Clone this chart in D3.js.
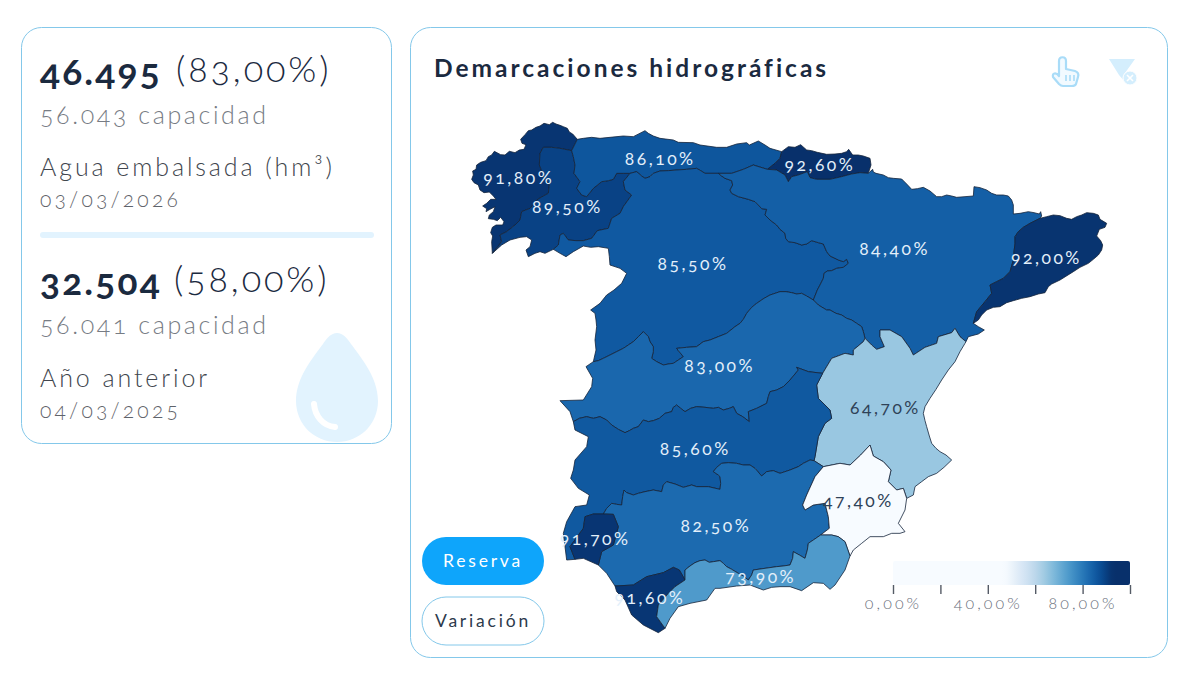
<!DOCTYPE html>
<html lang="es">
<head>
<meta charset="utf-8">
<title>Demarcaciones hidrográficas</title>
<script src="https://cdn.jsdelivr.net/npm/d3@7"></script>
<style>
  html, body { margin: 0; background: #fff; }
  svg { display: block; }
  text { font-family: Lato, "Open Sans", sans-serif; font-variant-numeric: oldstyle-nums; }
</style>
</head>
<body>
<script>
// kpi values
const embalsada = [46495, 32504];
const capacidad = [56043, 56041];
const porcentaje = [83, 58];
const rotulos = ['Agua embalsada (hm³)', 'Año anterior'];
const fechas = ['03/03/2026', '04/03/2025'];
const botones = ['Reserva', 'Variación'];

// reservoir level per basin
const demarcaciones = ['Galicia Costa', 'Miño-Sil', 'Cantábrico Occidental', 'Cantábrico Oriental', 'Duero', 'Ebro',
  'Cuencas Internas de Cataluña', 'Tajo', 'Júcar', 'Guadiana', 'Guadalquivir', 'Segura', 'Tinto, Odiel y Piedras',
  'Guadalete y Barbate', 'Mediterránea Andaluza'];
const reserva = [91.8, 89.5, 86.1, 92.6, 85.5, 84.4, 92, 83, 64.7, 85.6, 82.5, 47.4, 91.7, 91.6, 73.9];
const leyendaTicks = [0, 20, 40, 60, 80, 100];

// basin borders, in map units (3 units = 1px)
const galiciaCoast = [[352,88],[338,72],[328,66],[322,55],[310,50],[300,46],[288,42],[278,37],[268,44],[252,40],[240,48],[228,52],[215,60],[205,62],[195,74],[182,88],[186,100],[198,104],[192,118],[178,120],[165,128],[148,124],[135,135],[122,134],[103,124],[95,135],[85,140],[78,152],[62,157],[50,165],[48,178],[38,183],[40,195],[35,208],[42,218],[55,225],[60,240],[72,248],[88,246],[100,258],[108,268],[92,268],[80,280],[68,288],[80,296],[78,305],[90,298],[105,290],[100,305],[88,315],[85,326],[100,328],[112,332],[122,322],[132,335],[128,345],[108,345],[97,352],[92,368],[98,378],[95,395],[97,430]];
const galiciaMino = [[97,430],[125,395],[120,375],[140,365],[165,345],[180,330],[185,305],[210,295],[222,280],[230,270],[250,258],[265,250],[268,225],[250,200],[245,182],[238,165],[240,130],[250,112],[275,112],[300,115],[335,122]];
const galiciaCant = [[335,122],[352,88]];
const minoSouth = [[97,430],[125,405],[150,390],[180,382],[200,380],[215,390],[210,410],[198,420],[205,440],[225,430],[240,425],[255,430],[280,418]];
const minoDuero = [[280,418],[295,405],[300,375],[310,370],[325,390],[348,392],[370,392],[395,385],[412,362],[445,355],[455,325],[480,310],[490,290],[515,255],[495,240],[490,215],[510,190]];
const minoCant = [[335,122],[340,140],[345,165],[342,190],[360,215],[350,235],[365,255],[380,260],[400,235],[425,215],[445,212],[460,208],[470,190],[490,190],[510,190]];
const cantDuero = [[510,190],[530,185],[545,198],[555,205],[570,200],[580,190],[600,183],[625,182],[650,180],[680,178],[710,175],[722,182],[735,190],[775,190]];
const cantEbro = [[775,190],[815,190],[850,178],[880,165],[922,178]];
const cantCoast = [[352,88],[370,85],[395,82],[420,85],[450,82],[490,78],[520,80],[555,62],[565,70],[580,78],[600,85],[640,90],[655,97],[700,98],[720,105],[770,112],[800,112],[830,102],[860,98],[868,105],[895,93],[915,105],[930,115],[965,125]];
const orCant = [[965,125],[960,145],[945,160],[922,178]];
const orCoast = [[965,125],[985,110],[1005,112],[1022,104],[1040,120],[1055,122],[1072,127],[1100,133],[1125,132],[1145,130],[1160,125],[1166,118],[1178,135],[1195,135],[1210,138],[1230,145],[1233,165],[1225,190]];
const orEbro = [[1225,190],[1200,188],[1175,192],[1145,200],[1110,208],[1070,208],[1050,203],[1042,185],[1015,195],[995,200],[985,215],[975,195],[950,180],[922,178]];
const ebroCoast = [[1225,190],[1238,178],[1240,186],[1248,190],[1270,195],[1285,203],[1300,205],[1325,207],[1340,222],[1355,238],[1372,236],[1390,232],[1410,243],[1430,260],[1445,260],[1460,255],[1475,258],[1490,262],[1515,260],[1540,258],[1542,230],[1560,233],[1580,240],[1595,250],[1610,255],[1630,255],[1645,258],[1655,270],[1660,285],[1660,312],[1680,310],[1705,305],[1722,308],[1738,312],[1742,305],[1745,318],[1740,325]];
const ebroCat = [[1740,325],[1710,340],[1690,352],[1675,365],[1665,380],[1665,400],[1662,425],[1660,450],[1650,485],[1630,505],[1610,515],[1590,525],[1595,550],[1575,575],[1550,605],[1540,640]];
const catCoast = [[1740,325],[1760,320],[1780,315],[1800,317],[1820,325],[1835,328],[1850,320],[1865,315],[1880,308],[1900,310],[1915,315],[1920,328],[1940,340],[1935,352],[1918,358],[1910,378],[1922,392],[1928,405],[1925,420],[1915,435],[1900,448],[1885,460],[1860,472],[1840,485],[1800,510],[1775,522],[1765,530],[1755,548],[1735,552],[1710,560],[1685,565],[1660,572],[1640,578],[1620,590],[1600,592],[1580,600],[1565,615],[1555,630],[1540,640]];
const ebroDelta = [[1540,640],[1555,650],[1573,660],[1555,672],[1525,680],[1518,695]];
const ebroJucar = [[1518,695],[1500,680],[1485,655],[1475,668],[1435,680],[1430,700],[1395,712],[1360,735],[1350,715],[1325,680],[1290,660],[1260,660],[1260,680],[1273,710],[1250,718],[1235,705],[1215,685]];
const ebroTajo = [[1215,685],[1210,665],[1205,650],[1190,640],[1175,630],[1160,625],[1145,615],[1128,610],[1110,600],[1100,600],[1075,585],[1060,570]];
const ebroDuero = [[1060,570],[1072,540],[1080,525],[1090,505],[1092,490],[1102,483],[1115,482],[1130,475],[1150,472],[1165,460],[1160,448],[1150,455],[1135,450],[1125,445],[1110,438],[1100,425],[1090,402],[1075,398],[1055,392],[1040,402],[1025,405],[1005,398],[985,395],[977,385],[975,370],[960,358],[950,345],[930,330],[915,315],[920,298],[905,296],[895,285],[885,275],[865,268],[835,260],[815,250],[810,240],[818,225],[815,212],[795,205],[785,198],[775,190]];
const dueroTajo = [[1060,570],[1040,558],[1025,550],[1010,552],[995,548],[978,545],[960,545],[945,550],[930,555],[912,565],[890,580],[875,592],[860,610],[850,628],[840,640],[825,650],[800,670],[775,680],[750,690],[730,695],[710,710],[680,712],[650,715],[655,722],[670,740],[655,750],[640,760],[625,762],[610,765],[590,755],[575,745],[580,725],[580,710],[570,695],[565,680],[550,665],[535,680],[520,695],[505,705],[490,715],[470,725],[450,735],[430,745],[415,752],[400,755]];
const dueroPortugal = [[280,418],[300,430],[318,440],[340,425],[370,408],[392,412],[415,410],[445,415],[448,440],[450,465],[480,475],[500,490],[485,520],[462,540],[440,555],[420,580],[392,600],[405,610],[408,630],[410,650],[405,690],[408,720],[400,755]];
const tajoPortugal = [[400,755],[378,770],[398,805],[395,830],[370,870],[300,872],[330,905],[340,935]];
const tajoGuadiana = [[340,935],[358,925],[380,920],[400,925],[420,920],[440,930],[455,945],[475,958],[495,968],[508,962],[520,955],[535,950],[550,930],[565,935],[580,932],[598,925],[615,910],[635,905],[640,892],[650,885],[662,895],[675,905],[692,895],[710,890],[735,892],[760,895],[775,892],[790,900],[808,895],[820,890],[830,910],[848,920],[868,935],[865,905],[890,895],[920,880],[925,860],[930,845],[950,840],[970,830],[990,810],[1015,780],[1010,772],[1045,785],[1088,790]];
const tajoJucar = [[1215,685],[1210,695],[1180,720],[1180,735],[1155,730],[1115,745],[1088,790]];
const jucarGuadiana = [[1088,790],[1070,825],[1075,865],[1110,900],[1115,925],[1095,940],[1075,980],[1065,1040],[1062,1052]];
const jucarSegura = [[1090,1070],[1140,1060],[1170,1065],[1202,1035],[1230,1005],[1240,1038],[1270,1055],[1293,1080],[1285,1115],[1310,1140],[1330,1135],[1340,1165]];
const jucarCoast = [[1518,695],[1515,700],[1500,725],[1485,755],[1465,780],[1445,810],[1428,838],[1410,865],[1395,890],[1390,910],[1395,932],[1400,950],[1408,978],[1415,1000],[1428,1015],[1440,1025],[1458,1035],[1475,1050],[1452,1072],[1430,1090],[1405,1100],[1385,1115],[1365,1130],[1360,1155],[1340,1165]];
const seguraCoast = [[1340,1165],[1335,1200],[1315,1240],[1335,1265],[1320,1270],[1295,1270],[1270,1280],[1230,1280],[1205,1300],[1180,1320],[1170,1338]];
const guadalquivirJucar = [[1062,1052],[1090,1070]];
const guadalquivirSegura = [[1090,1070],[1065,1100],[1040,1155],[1028,1185],[1035,1200],[1060,1185],[1095,1180],[1105,1220],[1108,1255],[1082,1275]];
const seguraMed = [[1170,1338],[1155,1295],[1135,1280],[1115,1275],[1082,1275]];
const guadalquivirMed = [[675,1410],[675,1380],[690,1368],[705,1358],[720,1352],[735,1350],[748,1357],[760,1355],[780,1352],[790,1360],[800,1370],[815,1378],[835,1390],[850,1398],[865,1410],[875,1395],[880,1380],[915,1375],[950,1370],[970,1368],[990,1365],[998,1345],[1000,1325],[1018,1335],[1035,1345],[1042,1320],[1045,1300],[1060,1290],[1082,1275]];
const medCoast = [[1170,1338],[1155,1380],[1125,1425],[1110,1438],[1090,1420],[1060,1418],[1025,1442],[990,1430],[960,1430],[935,1432],[910,1440],[870,1425],[830,1428],[780,1435],[765,1435],[740,1470],[690,1480],[655,1490],[630,1525],[615,1555]];
const guadaleteMed = [[675,1410],[645,1430],[625,1450],[595,1485],[590,1520],[615,1555]];
const guadaleteCoast = [[465,1428],[470,1445],[495,1470],[515,1515],[550,1545],[595,1568],[615,1555]];
const guadaleteGuadalquivir = [[465,1428],[520,1425],[560,1400],[610,1388],[640,1372],[658,1380],[675,1410]];
const guadalquivirCoast = [[415,1365],[440,1390],[465,1428]];
const tintoGuadalquivir = [[430,1212],[460,1213],[475,1250],[460,1305],[425,1325],[415,1365]];
const tintoCoast = [[345,1348],[370,1345],[415,1365]];
const tintoGuadiana = [[345,1348],[330,1310],[370,1255],[375,1220],[400,1212],[430,1212]];
const guadianaGuadalquivir = [[1062,1052],[1050,1050],[1030,1060],[1015,1070],[990,1080],[960,1090],[940,1082],[920,1085],[905,1098],[885,1075],[870,1065],[850,1065],[830,1060],[805,1058],[785,1060],[770,1072],[760,1085],[775,1095],[780,1100],[782,1120],[780,1138],[745,1130],[710,1130],[695,1125],[670,1132],[645,1122],[620,1115],[610,1125],[605,1145],[580,1140],[555,1145],[535,1150],[520,1155],[500,1148],[492,1140],[488,1160],[485,1185],[470,1183],[455,1180],[440,1195],[430,1212]];
const guadianaPortugal = [[340,935],[345,960],[385,980],[380,1010],[345,1050],[340,1080],[332,1105],[355,1135],[388,1155],[380,1185],[345,1190],[320,1235],[310,1270],[315,1310],[320,1350],[345,1348]];

const rev = (a) => a.slice().reverse();
const ring = (...arcs) => arcs.flat();
const anillos = [
  ring(galiciaCoast, galiciaMino, galiciaCant),
  ring(minoSouth, minoDuero, rev(minoCant), rev(galiciaMino)),
  ring(cantCoast, orCant, rev(cantEbro), rev(cantDuero), rev(minoCant), galiciaCant),
  ring(orCoast, orEbro, rev(orCant)),
  ring(dueroPortugal, rev(dueroTajo), ebroDuero, rev(cantDuero), rev(minoDuero)),
  ring(ebroCoast, ebroCat, ebroDelta, ebroJucar, ebroTajo, ebroDuero, cantEbro, rev(orEbro)),
  ring(catCoast, rev(ebroCat)),
  ring(rev(ebroTajo), tajoJucar, rev(tajoGuadiana), rev(tajoPortugal), rev(dueroTajo)),
  ring(rev(ebroJucar), jucarCoast, rev(jucarSegura), rev(guadalquivirJucar), rev(jucarGuadiana), rev(tajoJucar)),
  ring(tajoGuadiana, jucarGuadiana, guadianaGuadalquivir, rev(tintoGuadiana), rev(guadianaPortugal)),
  ring(rev(guadianaGuadalquivir), guadalquivirJucar, guadalquivirSegura, rev(guadalquivirMed), rev(guadaleteGuadalquivir), rev(guadalquivirCoast), rev(tintoGuadalquivir)),
  ring(jucarSegura, seguraCoast, seguraMed, rev(guadalquivirSegura)),
  ring(tintoGuadiana, tintoGuadalquivir, rev(tintoCoast)),
  ring(guadaleteGuadalquivir, guadaleteMed, rev(guadaleteCoast)),
  ring(guadalquivirMed, rev(seguraMed), medCoast, rev(guadaleteMed))
];

const features = demarcaciones.map((name, i) => ({
  type: 'Feature',
  properties: {name, value: reserva[i]},
  geometry: {type: 'Polygon', coordinates: [anillos[i]]}
}));

const es = d3.formatLocale({decimal: ',', thousands: '.', grouping: [3], currency: ['', '€']});
const fmtInt = es.format(',d');
const fmtPct = (v) => `${es.format('.2f')(v)}%`;

const svg = d3.select('body').append('svg').attr('width', 1200).attr('height', 682);

const cardStroke = '#84c8ea';
const ink = '#1b2a3f';
const drop = '#e2f3fe';

// cards
const card = (x, y, w, h) => svg.append('rect')
  .attr('x', x).attr('y', y).attr('width', w).attr('height', h)
  .attr('rx', 20).attr('fill', '#fff').attr('stroke', cardStroke);
card(21.5, 27.5, 370, 416);
card(410.5, 27.5, 757, 630);

// water drop behind the kpi text
svg.append('path')
  .attr('d', 'M337 333C343 333 347 338 351 344C362 359 378 378 378 401C378 424 360 442 337 442C314 442 296 424 296 401C296 378 312 359 323 344C327 338 331 333 337 333Z')
  .attr('fill', drop);
svg.append('path')
  .attr('d', 'M314 404C315 416 323 426 335 427')
  .attr('fill', 'none').attr('stroke', '#fff').attr('stroke-width', 6).attr('stroke-linecap', 'round');

// kpi blocks
const kpiBase = [85, 295];
const kpi = svg.append('g').selectAll('g').data(embalsada).join('g');
kpi.append('text').attr('x', 40).attr('y', (d, i) => kpiBase[i])
  .attr('font-size', 37).attr('font-weight', 700).attr('fill', ink).attr('letter-spacing', 2.2)
  .text((d) => fmtInt(d));
kpi.append('text').attr('x', (d, i) => [176, 174][i]).attr('y', (d, i) => kpiBase[i] - 3)
  .attr('font-size', 36).attr('font-weight', 300).attr('fill', ink).attr('letter-spacing', 2.9)
  .text((d, i) => `(${fmtPct(porcentaje[i])})`);
kpi.append('text').attr('x', 40).attr('y', (d, i) => kpiBase[i] + 39)
  .attr('font-size', 25).attr('font-weight', 300).attr('fill', '#777c84').attr('letter-spacing', 2.6)
  .text((d, i) => `${fmtInt(capacidad[i])} capacidad`);
kpi.append('text').attr('x', 40).attr('y', (d, i) => kpiBase[i] + [91, 92][i])
  .attr('font-size', 25).attr('font-weight', 300).attr('fill', '#41464e').attr('letter-spacing', 2.9)
  .text((d, i) => rotulos[i]);
kpi.append('text').attr('x', 40).attr('y', (d, i) => kpiBase[i] + [122, 123][i])
  .attr('font-size', 21).attr('font-weight', 300).attr('fill', '#5f636a').attr('letter-spacing', 3.2)
  .text((d, i) => fechas[i]);

svg.append('rect').attr('x', 40).attr('y', 232).attr('width', 334).attr('height', 6).attr('rx', 3).attr('fill', drop);

// title
svg.append('text').attr('x', 434).attr('y', 77)
  .attr('font-size', 24.5).attr('font-weight', 700).attr('fill', ink).attr('letter-spacing', 3)
  .text('Demarcaciones hidrográficas');

// toolbar icons
const hand = svg.append('g').attr('fill', '#f2faff').attr('stroke', '#a9dcf8').attr('stroke-width', 2.2).attr('stroke-linejoin', 'round');
hand.append('path').attr('d', 'M1059 76V61C1059 56 1066 56 1066 61V69L1075 71C1078 72 1079 74 1078 77L1076 84C1075 86 1074 86 1072 86H1063C1061 86 1060 85 1059 84L1053 77C1052 73 1056 72 1059 76Z');
hand.append('path').attr('d', 'M1066 75V81M1070 75V81M1074 75V81').attr('stroke-width', 1.6);
svg.append('path').attr('d', 'M1109 59H1135L1125 73V82L1119 75Z').attr('fill', '#d4eefd');
svg.append('circle').attr('cx', 1130).attr('cy', 78).attr('r', 7).attr('fill', '#d4eefd').attr('stroke', '#fff');
svg.append('path').attr('d', 'M1127 75L1133 81M1133 75L1127 81').attr('stroke', '#fff').attr('stroke-width', 1.6);

// map
const color = d3.scaleSequential(d3.interpolateBlues).domain(d3.extent(reserva)).clamp(true);
const path = d3.geoPath(d3.geoIdentity().scale(1 / 3).translate([460, 110]));

const map = svg.append('g');
map.selectAll('path').data(features).join('path')
  .attr('d', path)
  .attr('fill', (d) => color(d.properties.value))
  .attr('stroke', '#14233a').attr('stroke-width', 0.8).attr('stroke-linejoin', 'round');
map.selectAll('text').data(features).join('text')
  .attr('transform', (d) => `translate(${path.centroid(d)})`)
  .attr('text-anchor', 'middle').attr('dy', '.42em')
  .attr('font-size', 17.5).attr('letter-spacing', 2.5)
  .attr('fill', (d) => d.properties.value < 70 ? '#2f4257' : '#e3effa')
  .text((d) => fmtPct(d.properties.value));

// legend
const legendX = d3.scaleLinear().domain([0, 100]).range([893, 1130]);
const grad = svg.append('defs').append('linearGradient').attr('id', 'leyenda');
grad.selectAll('stop').data(d3.range(0, 101, 2)).join('stop')
  .attr('offset', (d) => `${d}%`)
  .attr('stop-color', (d) => color(d));
svg.append('rect').attr('x', 893).attr('y', 561).attr('width', 237).attr('height', 24).attr('rx', 2).attr('fill', 'url(#leyenda)');
const axis = svg.append('g').attr('transform', 'translate(0,585)')
  .call(d3.axisBottom(legendX).tickValues(leyendaTicks).tickSize(9).tickFormat((d) => d % 40 === 0 ? fmtPct(d) : ''));
axis.select('.domain').remove();
axis.selectAll('line').attr('stroke', '#555b66').attr('stroke-width', 1.4);
axis.selectAll('text').attr('y', 13).attr('font-size', 16).attr('font-weight', 300).attr('letter-spacing', 3.1).attr('fill', '#666c78').attr('font-family', null);

// buttons
const btn = svg.append('g').selectAll('g').data(botones).join('g')
  .attr('transform', (d, i) => `translate(483,${561 + i * 60})`);
btn.append('rect').attr('x', -61).attr('y', -24).attr('width', 122).attr('height', 48).attr('rx', 24)
  .attr('fill', (d, i) => i ? '#fff' : '#0ea5fb')
  .attr('stroke', (d, i) => i ? cardStroke : 'none');
btn.append('text').attr('text-anchor', 'middle').attr('dy', '.35em')
  .attr('font-size', 17.5).attr('letter-spacing', 2.8)
  .attr('fill', (d, i) => i ? '#2d3a4c' : '#fff')
  .text((d) => d);
</script>
</body>
</html>
